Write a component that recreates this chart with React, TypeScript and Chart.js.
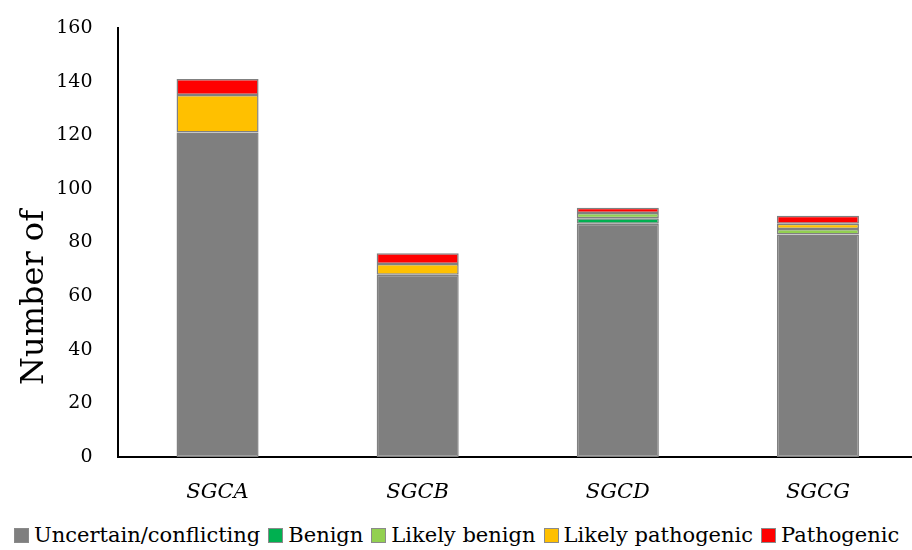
import React, { useEffect, useRef } from "react";
import { Chart, registerables } from "chart.js";

Chart.register(...registerables);

const categories = ["SGCA", "SGCB", "SGCD", "SGCG"];
const uncertainConflicting = [121, 68, 87, 83];
const benign = [0, 0, 2, 0];
const likelyBenign = [0, 0, 2, 2];
const likelyPathogenic = [14, 4, 0, 2];
const pathogenic = [6, 4, 2, 3];
const yTicks = [0, 20, 40, 60, 80, 100, 120, 140, 160];

const seriesNames = ["Uncertain/conflicting", "Benign", "Likely benign", "Likely pathogenic", "Pathogenic"];
const seriesColors = ["#7f7f7f", "#00b050", "#92d050", "#ffc000", "#ff0000"];
const yTitle = "Number of";

const SERIF = "'DejaVu Serif', 'Liberation Serif', serif";

export default function App() {
  const canvasRef = useRef<HTMLCanvasElement | null>(null);

  useEffect(() => {
    const canvas = canvasRef.current;
    if (!canvas) return;
    const seriesData = [uncertainConflicting, benign, likelyBenign, likelyPathogenic, pathogenic];

    const titlePlugin = {
      id: "yTitlePlugin",
      afterDraw(chart: any) {
        const ctx = chart.ctx;
        ctx.save();
        ctx.translate(43, 297.5);
        ctx.rotate(-Math.PI / 2);
        ctx.font = `32px ${SERIF}`;
        ctx.fillStyle = "#000";
        ctx.textAlign = "center";
        ctx.textBaseline = "alphabetic";
        ctx.fillText(yTitle, 0, 0);
        ctx.restore();
      },
    };

    const chart = new Chart(canvas, {
      type: "bar",
      data: {
        labels: categories,
        datasets: seriesData.map((d, i) => ({
          label: seriesNames[i],
          data: d,
          backgroundColor: seriesColors[i],
          borderColor: "#808080",
          borderWidth: 1.5,
          borderSkipped: false,
          categoryPercentage: 1,
          barPercentage: 0.41,
        })),
      },
      options: {
        responsive: false,
        animation: false,
        devicePixelRatio: 1,
        layout: { padding: { top: 28, left: 0, right: 0, bottom: 0 } },
        plugins: {
          legend: { display: false },
          tooltip: { enabled: false },
        },
        scales: {
          x: {
            stacked: true,
            grid: { display: false, drawTicks: true, tickLength: 23 },
            border: { display: true, color: "#000", width: 2 },
            ticks: {
              padding: 0,
              color: "#000",
              font: { family: SERIF, size: 21, style: "italic" },
            },
            afterFit: (scale: any) => {
              scale.height = 58;
            },
          },
          y: {
            stacked: true,
            min: 0,
            max: 160,
            grid: { display: false, drawTicks: true, tickLength: 25 },
            border: { display: true, color: "#000", width: 2 },
            afterBuildTicks: (scale: any) => {
              scale.ticks = yTicks.map((v) => ({ value: v }));
            },
            ticks: {
              padding: 0,
              color: "#000",
              font: { family: SERIF, size: 19 },
            },
            afterFit: (scale: any) => {
              scale.width = 117.5;
            },
          },
        },
      },
      plugins: [titlePlugin],
    });
    return () => chart.destroy();
  }, []);

  return (
    <div
      style={{
        position: "absolute",
        left: 0,
        top: 0,
        width: 912,
        height: 550,
        overflow: "hidden",
        background: "#fff",
      }}
    >
      <canvas ref={canvasRef} width={918} height={515} style={{ display: "block", width: 918, height: 515 }} />
      <div
        style={{
          position: "absolute",
          left: 14,
          top: 522,
          display: "flex",
          alignItems: "center",
          whiteSpace: "nowrap",
          fontFamily: SERIF,
          fontSize: 21,
          color: "#000",
          lineHeight: "26px",
        }}
      >
        {seriesNames.map((name, i) => (
          <span key={name} style={{ display: "flex", alignItems: "center", marginRight: 8 }}>
            <span
              style={{
                display: "inline-block",
                width: 13,
                height: 13,
                background: seriesColors[i],
                border: "1px solid #8a8a8a",
                marginRight: 5,
              }}
            />
            <span>{name}</span>
          </span>
        ))}
      </div>
    </div>
  );
}
